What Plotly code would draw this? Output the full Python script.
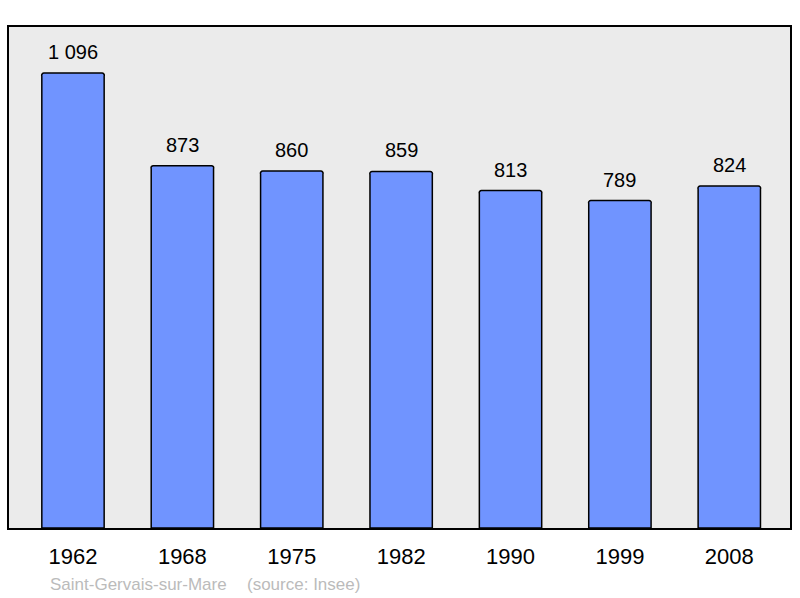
import plotly.graph_objects as go

years = ["1962", "1968", "1975", "1982", "1990", "1999", "2008"]
population = [1096, 873, 860, 859, 813, 789, 824]
value_labels = ["1 096", "873", "860", "859", "813", "789", "824"]
commune = "Saint-Gervais-sur-Mare"
source = "(source: Insee)"

FONT = "Liberation Sans, Arial, sans-serif"

fig = go.Figure()
fig.add_trace(go.Bar(
    x=list(range(len(years))), y=population,
    width=0.57,
    marker=dict(color="#7094FF", line=dict(color="#000000", width=1.5), cornerradius=3),
    hoverinfo="skip",
))

for i, (v, t) in enumerate(zip(population, value_labels)):
    fig.add_annotation(x=i, y=v, text=t, showarrow=False, yanchor="bottom",
                       yshift=8, font=dict(size=20, color="#000000", family=FONT))

fig.add_annotation(xref="paper", yref="paper", x=0.0505, y=-0.112, xanchor="left",
                   yanchor="middle", showarrow=False, text=commune,
                   font=dict(size=17, color="#BBBBBB", family=FONT))
fig.add_annotation(xref="paper", yref="paper", x=0.302, y=-0.112, xanchor="left",
                   yanchor="middle", showarrow=False, text=source,
                   font=dict(size=17, color="#BBBBBB", family=FONT))

fig.update_layout(
    width=800, height=598,
    margin=dict(l=9, r=10, t=27, b=70),
    paper_bgcolor="#FFFFFF",
    plot_bgcolor="#EBEBEB",
    showlegend=False,
    font=dict(family=FONT, color="#000000"),
    bargap=0,
)
fig.update_xaxes(
    range=[-0.585, len(years) - 1 + 0.555],
    tickmode="array", tickvals=list(range(len(years))), ticktext=years,
    tickfont=dict(size=22), ticks="", ticklabelstandoff=8,
    showgrid=False, zeroline=False,
    showline=True, linecolor="#000000", linewidth=2, mirror=True,
)
fig.update_yaxes(
    range=[0, 1207], showticklabels=False, ticks="",
    showgrid=False, zeroline=False,
    showline=True, linecolor="#000000", linewidth=2, mirror=True,
)

fig.write_html("out.html",
               config={"displayModeBar": False, "staticPlot": True},
               post_script="document.body.style.margin='0';document.body.style.overflow='hidden';")
